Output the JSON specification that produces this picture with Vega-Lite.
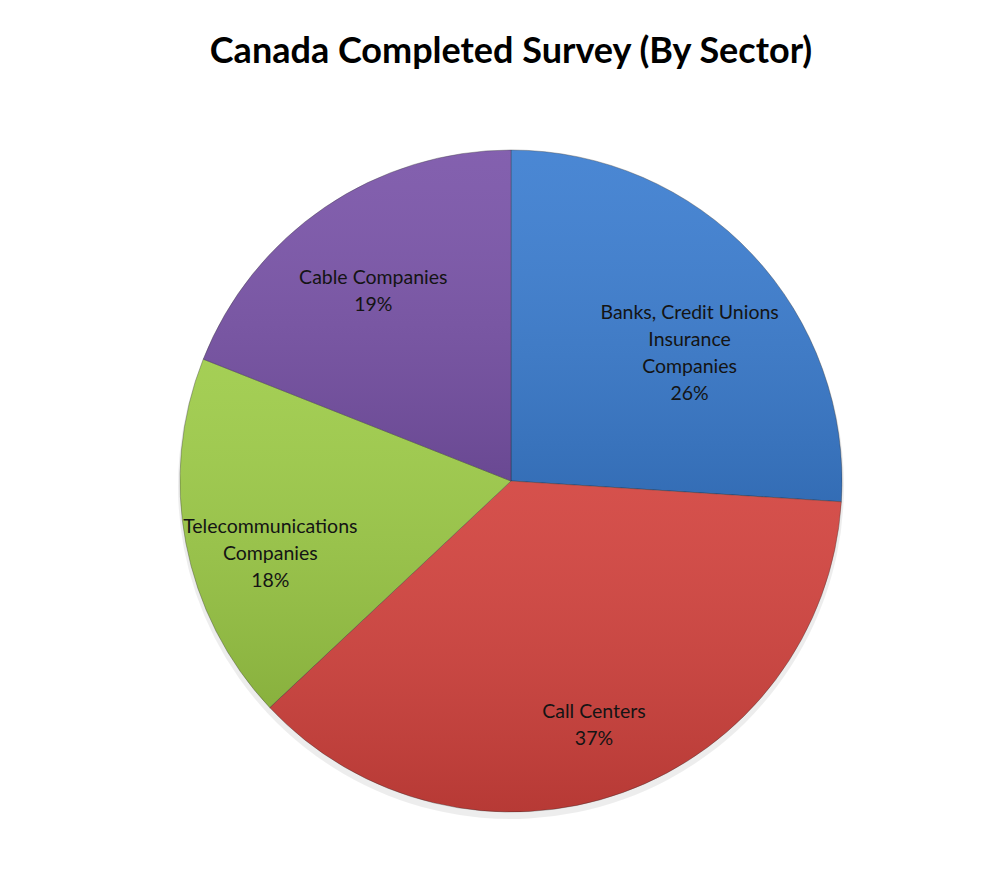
{
  "$schema": "https://vega.github.io/schema/vega-lite/v6.json",
  "width": 1000,
  "height": 886,
  "autosize": {"type": "fit", "contains": "padding"},
  "padding": {"top": 34, "left": 22, "right": 0, "bottom": 0},
  "background": "#ffffff",
  "config": {"view": {"stroke": null}},
  "title": {
    "text": "Canada Completed Survey (By Sector)",
    "font": "Lato",
    "fontSize": 36,
    "fontWeight": "bold",
    "color": "#000000",
    "anchor": "middle",
    "offset": 5
  },
  "data": {
    "values": [
      {"sector": "Banks, Credit Unions Insurance Companies", "order": 1, "percent": 26, "label": ["Banks, Credit Unions", "Insurance", "Companies", "26%"]},
      {"sector": "Call Centers", "order": 2, "percent": 37, "label": ["Call Centers", "37%"]},
      {"sector": "Telecommunications Companies", "order": 3, "percent": 18, "label": ["Telecommunications", "Companies", "18%"]},
      {"sector": "Cable Companies", "order": 4, "percent": 19, "label": ["Cable Companies", "19%"]}
    ]
  },
  "encoding": {
    "theta": {"field": "percent", "type": "quantitative", "stack": true},
    "order": {"field": "order", "type": "quantitative"}
  },
  "layer": [
    {
      "mark": {"type": "arc", "outerRadius": 333, "color": "#000000", "opacity": 0.07, "yOffset": 5}
    },
    {
      "mark": {"type": "arc", "outerRadius": 331, "stroke": "#2a2a2a", "strokeOpacity": 0.35, "strokeWidth": 1},
      "encoding": {
        "color": {
          "field": "sector",
          "type": "nominal",
          "scale": {
            "domain": ["Banks, Credit Unions Insurance Companies", "Call Centers", "Telecommunications Companies", "Cable Companies"],
            "range": ["#3b7dd0", "#d2423d", "#9dcb47", "#7953a8"]
          },
          "legend": null
        }
      }
    },
    {
      "mark": {
        "type": "arc",
        "outerRadius": 331,
        "fill": {
          "gradient": "linear",
          "x1": 0, "y1": 0, "x2": 0, "y2": 1,
          "stops": [
            {"offset": 0, "color": "rgba(255,255,255,0.08)"},
            {"offset": 1, "color": "rgba(0,0,0,0.13)"}
          ]
        }
      }
    },
    {
      "mark": {
        "type": "text",
        "radius": 245,
        "font": "Lato",
        "fontSize": 19.5,
        "lineHeight": 27,
        "color": "#141414",
        "align": "center",
        "baseline": "middle"
      },
      "encoding": {
        "text": {"field": "label"}
      }
    }
  ]
}
